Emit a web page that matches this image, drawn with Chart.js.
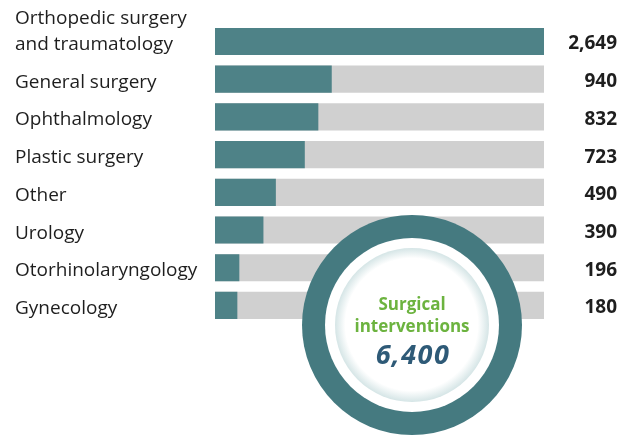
<!DOCTYPE html>
<html>
<head>
<meta charset="utf-8">
<script src="https://cdn.jsdelivr.net/npm/chart.js@4"></script>
<style>
  html, body { margin: 0; padding: 0; background: #fff; }
  #wrap { width: 620px; height: 435px; position: relative; }
</style>
</head>
<body>
<div id="wrap"><canvas id="chart"></canvas></div>
<script>
const categories = [
  ["Orthopedic surgery", "and traumatology"],
  "General surgery",
  "Ophthalmology",
  "Plastic surgery",
  "Other",
  "Urology",
  "Otorhinolaryngology",
  "Gynecology",
]
const surgeries = [2649, 940, 832, 723, 490, 390, 196, 180]
const totalTitle = ["Surgical", "interventions"]
const totalValue = 6400

const maxValue = Math.max(...surgeries)
const track = surgeries.map(() => maxValue)
const fmt = (v) => v.toLocaleString("en-US")

const labelFont = '19px "Open Sans", sans-serif'

// category names on the left, numbers on the right
const sideLabels = {
  id: "sideLabels",
  afterDatasetsDraw(chart) {
    const { ctx } = chart
    const y = chart.scales.y
    ctx.save()
    ctx.fillStyle = "#1e1e1e"
    ctx.textBaseline = "alphabetic"
    categories.forEach((cat, i) => {
      const cy = y.getPixelForValue(i)
      const lines = Array.isArray(cat) ? cat : [cat]
      ctx.font = labelFont
      ctx.textAlign = "left"
      lines.forEach((line, j) => {
        ctx.fillText(line, 15, cy + 8.5 - (lines.length - 1 - j) * 26)
      })
      ctx.font = 'bold 19px "Open Sans", sans-serif'
      ctx.textAlign = "right"
      ctx.fillText(fmt(surgeries[i]), 617, cy + 8)
    })
    ctx.restore()
  },
}

// the round badge with the total
const totalBadge = {
  id: "totalBadge",
  afterDraw(chart) {
    const { ctx } = chart
    const cx = 412, cy = 325
    ctx.save()
    ctx.beginPath()
    ctx.arc(cx, cy, 110, 0, Math.PI * 2)
    ctx.fillStyle = "#457a80"
    ctx.fill()
    ctx.beginPath()
    ctx.arc(cx, cy, 87, 0, Math.PI * 2)
    ctx.fillStyle = "#fff"
    ctx.fill()
    const g = ctx.createRadialGradient(cx - 3, cy - 4, 0, cx, cy, 77)
    g.addColorStop(0, "#ffffff")
    g.addColorStop(0.86, "#ffffff")
    g.addColorStop(1, "#d5e5e6")
    ctx.beginPath()
    ctx.arc(cx, cy, 77, 0, Math.PI * 2)
    ctx.fillStyle = g
    ctx.fill()

    ctx.textAlign = "center"
    ctx.textBaseline = "alphabetic"
    ctx.fillStyle = "#6cb33f"
    ctx.font = 'bold 17px "Open Sans", sans-serif'
    ctx.fillText(totalTitle[0], cx, 310)
    ctx.fillText(totalTitle[1], cx, 332)
    ctx.fillStyle = "#2e5a77"
    ctx.font = 'italic bold 27px "Open Sans", sans-serif'
    ctx.letterSpacing = "1.5px"
    ctx.fillText(fmt(totalValue), cx + 1, 364)
    ctx.restore()
  },
}

new Chart(document.getElementById("chart"), {
  type: "bar",
  data: {
    labels: categories,
    datasets: [
      {
        data: surgeries,
        backgroundColor: "#4e8287",
        grouped: false,
        categoryPercentage: 1,
        barPercentage: 0.72,
      },
      {
        data: track,
        backgroundColor: "#d0d0d0",
        grouped: false,
        categoryPercentage: 1,
        barPercentage: 0.72,
      },
    ],
  },
  options: {
    indexAxis: "y",
    responsive: true,
    maintainAspectRatio: false,
    animation: false,
    layout: { padding: { left: 215, right: 76, top: 22.6, bottom: 110.7 } },
    scales: {
      x: { display: false, min: 0, max: maxValue },
      y: { display: false },
    },
    plugins: { legend: { display: false }, tooltip: { enabled: false } },
  },
  plugins: [sideLabels, totalBadge],
})
</script>
</body>
</html>
